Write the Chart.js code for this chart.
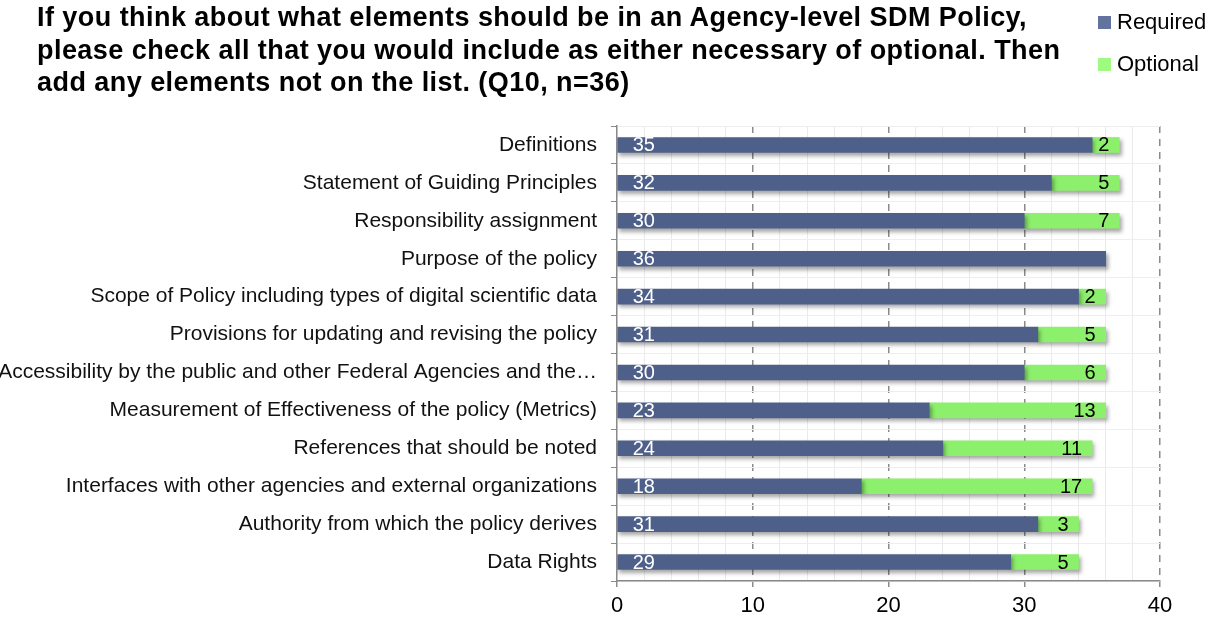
<!DOCTYPE html>
<html>
<head>
<meta charset="utf-8">
<script src="https://cdn.jsdelivr.net/npm/chart.js@4.4.0/dist/chart.umd.min.js"></script>
<style>
  body { margin: 0; background: #fff; font-family: "Liberation Sans", Arial, sans-serif; }
  #wrap { position: relative; width: 1223px; height: 618px; overflow: hidden; }
  #title { position: absolute; left: 37px; top: 1px; font-size: 27px; font-weight: bold; line-height: 32.5px; letter-spacing: 0.45px; color: #000; white-space: nowrap; z-index: 2; }
  #legend { position: absolute; left: 1098px; top: 8px; font-size: 22px; color: #000; z-index: 2; }
  #legend div { height: 42px; line-height: 28px; white-space: nowrap; }
  #legend span.sw { display: inline-block; width: 13px; height: 13px; margin-right: 6px; vertical-align: 0px; }
  canvas { position: absolute; left: 0; top: 0; }
</style>
</head>
<body>
<div id="wrap">
  <div id="title">If you think about what elements should be in an Agency-level SDM Policy,<br>please check all that you would include as either necessary of optional. Then<br>add any elements not on the list. (Q10, n=36)</div>
  <div id="legend">
    <div><span class="sw" style="background:#62739d"></span>Required</div>
    <div><span class="sw" style="background:#9cfb80"></span>Optional</div>
  </div>
  <canvas id="chart" width="1223" height="618"></canvas>
</div>
<script>
// survey answers
const categories = [
  'Definitions',
  'Statement of Guiding Principles',
  'Responsibility assignment',
  'Purpose of the policy',
  'Scope of Policy including types of digital scientific data',
  'Provisions for updating and revising the policy',
  'Accessibility by the public and other Federal Agencies and the\u2026',
  'Measurement of Effectiveness of the policy (Metrics)',
  'References that should be noted',
  'Interfaces with other agencies and external organizations',
  'Authority from which the policy derives',
  'Data Rights'
];
const required = [35, 32, 30, 36, 34, 31, 30, 23, 24, 18, 31, 29];
const optional = [2, 5, 7, 0, 2, 5, 6, 13, 11, 17, 3, 5];
const xTicks = [0, 10, 20, 30, 40];

// value labels + bar shadow
const barLabels = {
  id: 'barLabels',
  beforeDatasetsDraw(chart) {
    const ctx = chart.ctx;
    ctx.save();
    ctx.shadowColor = 'rgba(0,0,0,0.35)';
    ctx.shadowBlur = 4;
    ctx.shadowOffsetX = 2;
    ctx.shadowOffsetY = 3;
  },
  afterDatasetsDraw(chart) {
    const ctx = chart.ctx;
    ctx.restore();
    ctx.save();
    ctx.font = '20px "Liberation Sans", Arial, sans-serif';
    ctx.textBaseline = 'middle';
    const req = chart.getDatasetMeta(0).data;
    const opt = chart.getDatasetMeta(1).data;
    req.forEach((bar, i) => {
      ctx.fillStyle = '#ffffff';
      ctx.textAlign = 'left';
      ctx.fillText(required[i], bar.base + 15, bar.y + 1);
    });
    opt.forEach((bar, i) => {
      if (!optional[i]) return;
      ctx.fillStyle = '#000000';
      ctx.textAlign = 'right';
      ctx.fillText(optional[i], bar.x - 10, bar.y + 1);
    });
    ctx.restore();
  }
};

new Chart(document.getElementById('chart'), {
  type: 'bar',
  data: {
    labels: categories,
    datasets: [
      { label: 'Required', data: required, backgroundColor: '#4e6089', barThickness: 15 },
      { label: 'Optional', data: optional, backgroundColor: '#8df06c', barThickness: 15 }
    ]
  },
  options: {
    indexAxis: 'y',
    responsive: false,
    animation: false,
    layout: { padding: { top: 126, right: 63, left: 0, bottom: 0 } },
    plugins: { legend: { display: false }, tooltip: { enabled: false } },
    scales: {
      x: {
        stacked: true,
        min: 0,
        max: 40,
        afterFit: s => { s.height = 37; },
        ticks: {
          stepSize: 2,
          autoSkip: false,
          maxRotation: 0,
          color: '#000',
          font: { size: 22, family: '"Liberation Sans", Arial, sans-serif' },
          padding: 6,
          callback: v => xTicks.includes(v) ? String(v) : ''
        },
        grid: {
          color: c => (c.tick && c.tick.value % 10 === 0 && c.tick.value !== 0) ? '#8a8a8a' : '#ebebeb',
          lineWidth: c => (c.tick && c.tick.value % 10 === 0) ? 1.5 : 1,
          tickColor: c => (c.tick && c.tick.value % 10 === 0) ? '#8a8a8a' : 'rgba(0,0,0,0)',
          tickLength: 6
        },
        border: {
          color: '#8a8a8a',
          width: 1.5,
          dash: c => (c.type === 'tick' && c.tick && c.tick.value % 10 === 0) ? [7, 6] : []
        }
      },
      y: {
        stacked: true,
        afterFit: s => { s.width = 617; },
        ticks: {
          color: '#111',
          font: { size: 21, family: '"Liberation Sans", Arial, sans-serif' },
          padding: 14
        },
        grid: {
          color: '#eeeeee',
          tickColor: '#8a8a8a',
          tickLength: 6,
          offset: true
        },
        border: { color: '#8a8a8a', width: 1.5 }
      }
    }
  },
  plugins: [barLabels]
});
</script>
</body>
</html>
